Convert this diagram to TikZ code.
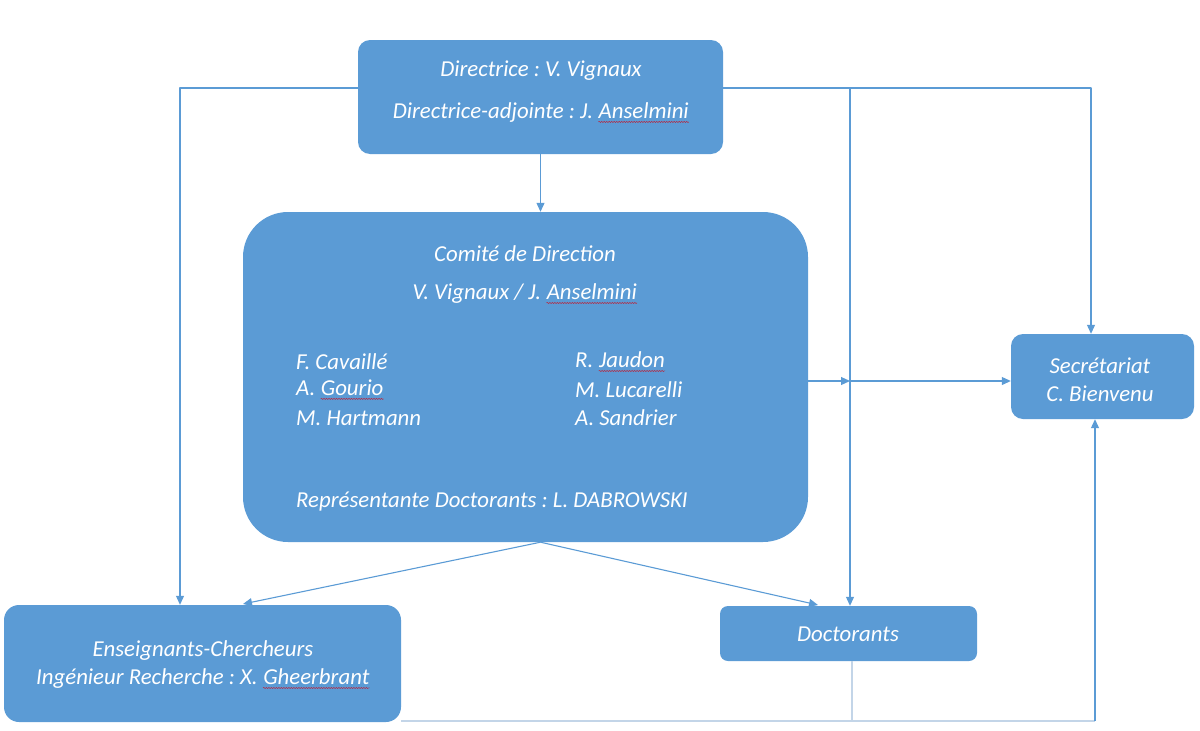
\documentclass[tikz,border=0pt]{standalone}
\usepackage{fontspec}
\setmainfont{Carlito}
\frenchspacing
\usetikzlibrary{arrows.meta,decorations.pathmorphing}

\definecolor{boxblue}{HTML}{5B9BD5}
\definecolor{paleline}{HTML}{C3D5E8}
\definecolor{spellred}{HTML}{B0304A}
\newcommand{\spell}[1]{\tikz[baseline=(w.base)]{\node[inner sep=0pt, text=white] (w) {#1};
  \draw[spellred, line width=0.5pt, decorate, decoration={snake, amplitude=0.7pt, segment length=2.5pt}]
    ([yshift=-3pt]w.base west) -- ([yshift=-3pt]w.base east);}}

\tikzset{
  unitbox/.style={fill=boxblue, inner sep=0pt},
  boxtext/.style={text=white, inner sep=0pt, font=\itshape\fontsize{22.8}{27}\selectfont},
  link/.style={draw=boxblue, line width=1.1pt, -{Triangle[length=9pt,width=8pt]}},
  pale/.style={draw=paleline, line width=1.1pt}
}

\begin{document}
\begin{tikzpicture}[x=1pt, y=-1pt, line join=round]
\useasboundingbox (0,0) rectangle (1200,731);
% boxes
\node[unitbox, minimum width=365pt, minimum height=114pt, rounded corners=12pt] (dir) at (540.5,97) {};
\node[unitbox, minimum width=565pt, minimum height=330pt, rounded corners=45pt] (com) at (525.5,377) {};
\node[unitbox, minimum width=183pt, minimum height=85pt, rounded corners=12pt] (sec) at (1102.5,376.5) {};
\node[unitbox, minimum width=397pt, minimum height=117pt, rounded corners=15pt] (ens) at (202.5,663.5) {};
\node[unitbox, minimum width=257pt, minimum height=55pt, rounded corners=8pt] (doc) at (848.5,633.5) {};
% texts
\node[boxtext] (dirA) at (541,71) {Directrice : V. Vignaux};
\node[boxtext] (dirB) at (541,113) {Directrice-adjointe : J. \spell{Anselmini}};
\node[boxtext] (comA) at (525,254) {Comité de Direction};
\node[boxtext] (comB) at (525,294) {V. Vignaux / J. \spell{Anselmini}};
\node[boxtext, anchor=west] (m1) at (296,362) {F. Cavaillé};
\node[boxtext, anchor=west] (m2) at (296,390) {A. \spell{Gourio}};
\node[boxtext, anchor=west] (m3) at (296,418) {M. Hartmann};
\node[boxtext, anchor=west] (m4) at (575,362) {R. \spell{Jaudon}};
\node[boxtext, anchor=west] (m5) at (575,390) {M. Lucarelli};
\node[boxtext, anchor=west] (m6) at (575,418) {A. Sandrier};
\node[boxtext, anchor=west] (rep) at (296,502) {Représentante Doctorants : L. DABROWSKI};
\node[boxtext] (secA) at (1100,366) {Secrétariat};
\node[boxtext] (secB) at (1100,394) {C. Bienvenu};
\node[boxtext] (ensA) at (203,651) {Enseignants-Chercheurs};
\node[boxtext] (ensB) at (203,679) {Ingénieur Recherche : X. \spell{Gheerbrant}};
\node[boxtext] (docA) at (848,634) {Doctorants};
% junction points
\coordinate (jl) at (180,88);
\coordinate (jm) at (850,88);
\coordinate (jr) at (1091,88);
\coordinate (jh) at (850,381);
\coordinate (jd) at (852,661);
\coordinate (jb) at (1095,721);
\coordinate (ensin) at (243,604);
\coordinate (docin) at (818,605);
% connectors
\draw[link] (dir.south) -- (dir.south |- com.north);
\draw[link] (dir.south |- com.south) -- (ensin);
\draw[link] (dir.south |- com.south) -- (docin);
\draw[link] (dir.west |- jl) -- (jl) -- (ens.north -| jl);
\draw[link] (dir.east |- jl) -- (jr) -- (sec.north -| jr);
\draw[link] (jm) -- (doc.north -| jm);
\draw[link] (com.east |- jh) -- (jh);
\draw[link] (jh) -- (sec.west |- jh);
\draw[pale] (ens.south east |- jb) -- (jb);
\draw[pale] (jd) -- (jd |- jb);
\draw[link] (jb) -- (sec.south -| jb);
\end{tikzpicture}
\end{document}
